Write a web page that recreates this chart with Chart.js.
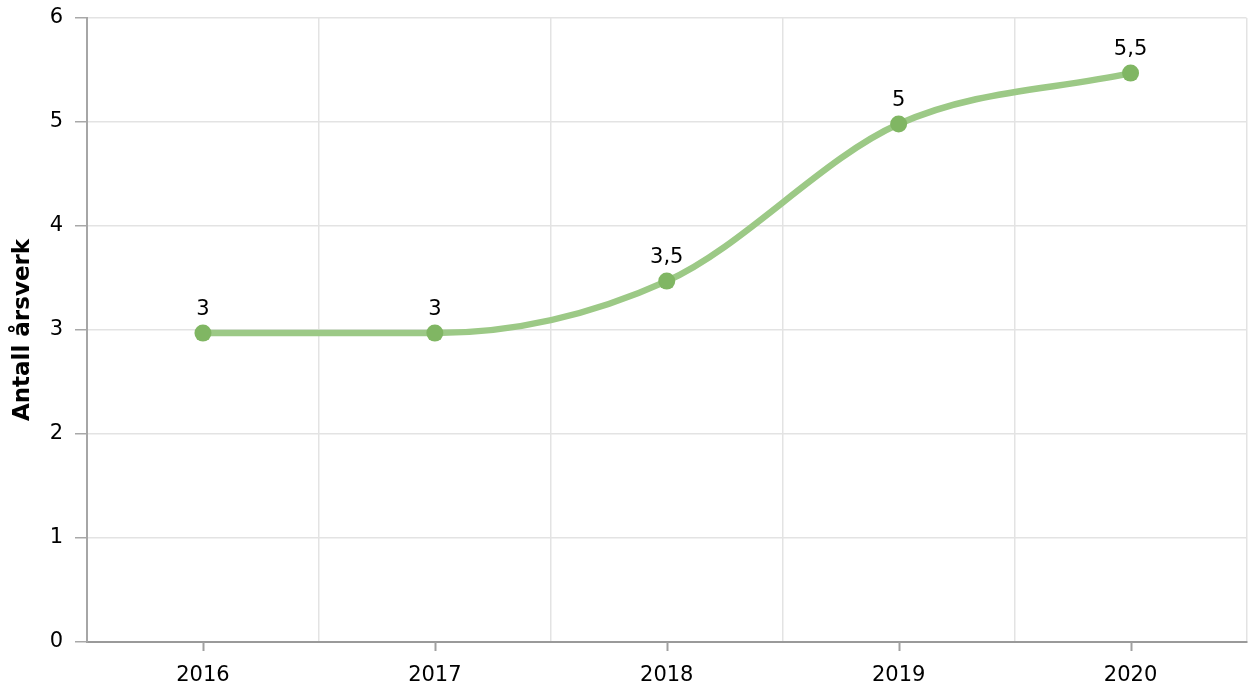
<!DOCTYPE html>
<html>
<head>
<meta charset="utf-8">
<script src="https://cdn.jsdelivr.net/npm/chart.js@4/dist/chart.umd.min.js"></script>
<style>
    html, body { margin: 0; padding: 0; background: #fff; }
    #wrap { width: 1255px; height: 691px; }
</style>
</head>
<body>
<div id="wrap"><canvas id="chart"></canvas></div>
<script>
const years = ['2016', '2017', '2018', '2019', '2020'];
const arsverk = [2.97, 2.97, 3.47, 4.98, 5.47];
const yTicks = [0, 1, 2, 3, 4, 5, 6];

const fontFamily = '"DejaVu Sans", Verdana, sans-serif';

function formatValue(v) {
    return String(Math.round(v * 10) / 10).replace('.', ',');
}

// tick marks under each category centre (grid lines sit between categories)
const centreTicks = {
    id: 'centreTicks',
    afterDraw(chart) {
        const x = chart.scales.x;
        const ctx = chart.ctx;
        ctx.save();
        ctx.strokeStyle = '#a0a0a0';
        ctx.lineWidth = 2;
        years.forEach((y, i) => {
            const px = Math.round(x.getPixelForValue(i)) + 0.5;
            ctx.beginPath();
            ctx.moveTo(px, x.top);
            ctx.lineTo(px, x.top + 9);
            ctx.stroke();
        });
        ctx.restore();
    }
};

const valueLabels = {
    id: 'valueLabels',
    afterDatasetsDraw(chart) {
        const ctx = chart.ctx;
        const meta = chart.getDatasetMeta(0);
        ctx.save();
        ctx.font = '21px ' + fontFamily;
        ctx.fillStyle = '#000';
        ctx.textAlign = 'center';
        ctx.textBaseline = 'alphabetic';
        meta.data.forEach((pt, i) => {
            ctx.fillText(formatValue(arsverk[i]), pt.x, pt.y - 18);
        });
        ctx.restore();
    }
};

new Chart(document.getElementById('chart'), {
    type: 'line',
    data: {
        labels: years,
        datasets: [{
            label: 'Antall årsverk',
            data: arsverk,
            borderColor: '#9cc986',
            borderWidth: 6.5,
            pointBackgroundColor: '#80b663',
            pointBorderColor: '#80b663',
            pointRadius: 8.5,
            pointBorderWidth: 0,
            cubicInterpolationMode: 'monotone',
            clip: false
        }]
    },
    options: {
        responsive: true,
        maintainAspectRatio: false,
        animation: false,
        layout: { padding: { left: 0, right: 2, top: 0, bottom: 0 } },
        plugins: {
            legend: { display: false },
            tooltip: { enabled: false }
        },
        scales: {
            x: {
                offset: true,
                afterFit(scale) { scale.height = 49; },
                grid: { offset: true, color: '#e3e3e3', lineWidth: 1.5, drawTicks: false },
                border: { color: '#9a9a9a', width: 2 },
                ticks: { color: '#000', padding: 21, font: { family: fontFamily, size: 21 } }
            },
            y: {
                min: 0,
                max: 6,
                afterBuildTicks(scale) { scale.ticks = yTicks.map(v => ({ value: v })); },
                afterFit(scale) {
                    scale.width = 87;
                    scale.paddingTop = 18;
                },
                grid: { color: '#e3e3e3', lineWidth: 1.5, tickLength: 12, tickColor: '#a8a8a8' },
                border: { color: '#a6a6a6', width: 2 },
                ticks: { color: '#000', padding: 12, font: { family: fontFamily, size: 21 } },
                title: {
                    display: true,
                    text: 'Antall årsverk',
                    color: '#000',
                    padding: { top: 9, bottom: 0 },
                    font: { family: fontFamily, size: 23, weight: 'bold' }
                }
            }
        }
    },
    plugins: [centreTicks, valueLabels]
});
</script>
</body>
</html>
